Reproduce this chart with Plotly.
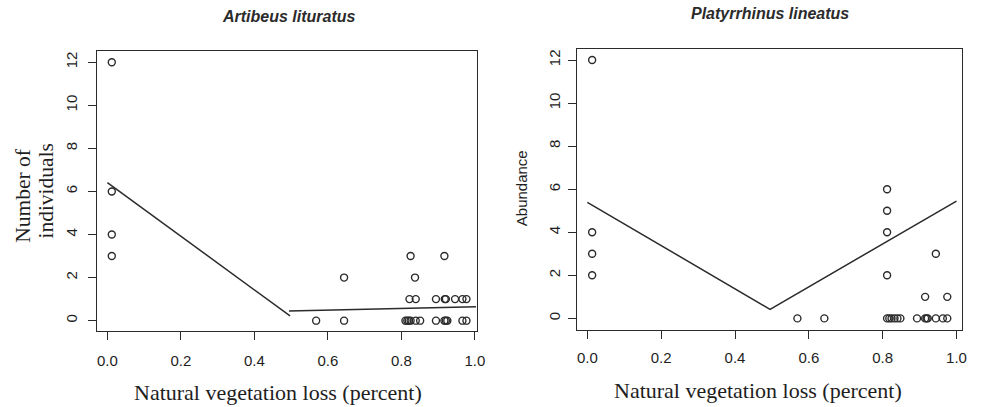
import plotly.graph_objects as go

# ---- data: Artibeus lituratus ----
art_x = [0.012, 0.012, 0.012, 0.012, 0.568, 0.644, 0.644,
         0.825, 0.837, 0.822, 0.839, 0.811, 0.816, 0.820, 0.825, 0.839, 0.851,
         0.917, 0.894, 0.918, 0.921, 0.946, 0.966, 0.977,
         0.894, 0.917, 0.921, 0.925, 0.966, 0.977]
art_y = [12, 6, 4, 3, 0, 2, 0,
         3, 2, 1, 1, 0, 0, 0, 0, 0, 0,
         3, 1, 1, 1, 1, 1, 1,
         0, 0, 0, 0, 0, 0]
art_fit1_x = [0.0, 0.497]
art_fit1_y = [6.41, 0.22]
art_fit2_x = [0.494, 1.003]
art_fit2_y = [0.45, 0.65]

# ---- data: Platyrrhinus lineatus ----
pla_x = [0.013, 0.013, 0.013, 0.013, 0.569, 0.642,
         0.812, 0.812, 0.812, 0.812,
         0.812, 0.818, 0.824, 0.832, 0.840, 0.848,
         0.915, 0.944, 0.975,
         0.893, 0.915, 0.919, 0.922, 0.944, 0.963, 0.975]
pla_y = [12, 4, 3, 2, 0, 0,
         6, 5, 4, 2,
         0, 0, 0, 0, 0, 0,
         1, 3, 1,
         0, 0, 0, 0, 0, 0, 0]
pla_fit_x = [0.0, 0.495, 1.0]
pla_fit_y = [5.39, 0.42, 5.45]

x_ticks = [0.0, 0.2, 0.4, 0.6, 0.8, 1.0]
x_tick_labels = ["0.0", "0.2", "0.4", "0.6", "0.8", "1.0"]
y_ticks = [0, 2, 4, 6, 8, 10, 12]

titles = ["Artibeus lituratus", "Platyrrhinus lineatus"]
x_title = "Natural vegetation loss (percent)"
y_title_left = ["Number of", "individuals"]
y_title_right = "Abundance"

INK = "#2b2b2b"
W, H = 984, 407

fig = go.Figure()
marker = dict(symbol="circle-open", size=7, color=INK, line=dict(width=1.4, color=INK))
linestyle = dict(color=INK, width=1.5)

fig.add_trace(go.Scatter(x=art_x, y=art_y, mode="markers", marker=marker, xaxis="x", yaxis="y", showlegend=False))
fig.add_trace(go.Scatter(x=art_fit1_x, y=art_fit1_y, mode="lines", line=linestyle, xaxis="x", yaxis="y", showlegend=False))
fig.add_trace(go.Scatter(x=art_fit2_x, y=art_fit2_y, mode="lines", line=linestyle, xaxis="x", yaxis="y", showlegend=False))
fig.add_trace(go.Scatter(x=pla_x, y=pla_y, mode="markers", marker=marker, xaxis="x2", yaxis="y2", showlegend=False))
fig.add_trace(go.Scatter(x=pla_fit_x, y=pla_fit_y, mode="lines", line=linestyle, xaxis="x2", yaxis="y2", showlegend=False))

tickfont = dict(family="Liberation Sans, Arial, sans-serif", size=15, color="#1e1e1e")

def xax(domain, rng, anchor, standoff):
    return dict(domain=domain, range=rng, anchor=anchor, showgrid=False, zeroline=False,
                showline=True, mirror=True, linecolor=INK, linewidth=1.4,
                ticks="outside", ticklen=8, tickwidth=1.3, tickcolor=INK,
                tickvals=x_ticks, ticktext=x_tick_labels, tickfont=tickfont,
                ticklabelstandoff=standoff)

def yax(domain, rng, anchor, standoff):
    return dict(domain=domain, range=rng, anchor=anchor, showgrid=False, zeroline=False,
                showline=True, mirror=True, linecolor=INK, linewidth=1.4,
                ticks="outside", ticklen=8, tickwidth=1.3, tickcolor=INK,
                tickvals=y_ticks, tickangle=-90, tickfont=tickfont,
                ticklabelstandoff=standoff)

fig.update_layout(
    width=W, height=H,
    margin=dict(l=0, r=0, t=0, b=0),
    paper_bgcolor="white", plot_bgcolor="white",
    xaxis=xax([98 / W, 481 / W], [-0.028, 1.0046], "y", 8),
    yaxis=yax([1 - 331 / H, 1 - 51 / H], [-0.48, 12.52], "x", 5),
    xaxis2=xax([582.7 / W, 971.3 / W], [-0.027, 1.016], "y2", 6),
    yaxis2=yax([1 - 330 / H, 1 - 49.3 / H], [-0.54, 12.5], "x2", 2),
)

serif = "Liberation Serif, Times New Roman, serif"
sans = "Liberation Sans, Arial, sans-serif"
ann = []
ann.append(dict(text="<b><i>" + titles[0] + "</i></b>", x=292 / W, y=1 - 17 / H, yanchor="middle",
                font=dict(family=sans, size=16, color=INK)))
ann.append(dict(text="<b><i>" + titles[1] + "</i></b>", x=777 / W, y=1 - 14 / H, yanchor="middle",
                font=dict(family=sans, size=16, color=INK)))
ann.append(dict(text=x_title, x=280.5 / W, y=0, yanchor="bottom", font=dict(family=serif, size=22, color="#1e1e1e")))
ann.append(dict(text=x_title, x=765 / W, y=0.004, yanchor="bottom", font=dict(family=serif, size=22, color="#1e1e1e")))
ann.append(dict(text=y_title_left[0], x=23 / W, y=1 - 195 / H, yanchor="middle", textangle=-90,
                font=dict(family=serif, size=21.5, color="#1e1e1e")))
ann.append(dict(text=y_title_left[1], x=46 / W, y=1 - 191 / H, yanchor="middle", textangle=-90,
                font=dict(family=serif, size=21.5, color="#1e1e1e")))
ann.append(dict(text=y_title_right, x=526 / W, y=1 - 188 / H, yanchor="middle", textangle=-90,
                font=dict(family=sans, size=15, color="#1e1e1e")))
for a in ann:
    a.update(xref="paper", yref="paper", showarrow=False, xanchor="center")
fig.update_layout(annotations=ann)

fig.write_html("out.html", config={"displayModeBar": False},
               post_script="document.body.style.margin='0';")
